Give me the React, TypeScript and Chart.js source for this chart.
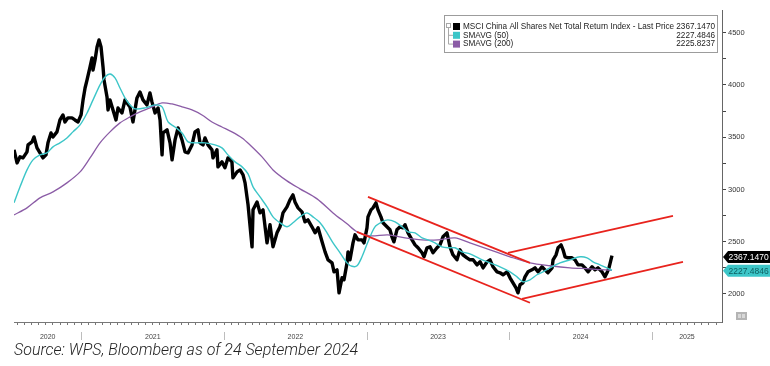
import React, { useEffect, useRef } from 'react';
import { Chart, registerables } from 'chart.js';

Chart.register(...registerables);

// ---------- DATA ----------
// x values are fractional years
const priceDates = [
  2020.527, 2020.548, 2020.569, 2020.590, 2020.618, 2020.625, 2020.653, 2020.667, 2020.688, 2020.709,
  2020.730, 2020.751, 2020.765, 2020.786, 2020.800, 2020.828, 2020.849, 2020.870, 2020.884, 2020.905,
  2020.933, 2020.954, 2020.976, 2020.997, 2021.011, 2021.025, 2021.039, 2021.060, 2021.074, 2021.081,
  2021.095, 2021.109, 2021.123, 2021.137, 2021.151, 2021.158, 2021.179, 2021.186, 2021.200, 2021.221,
  2021.242, 2021.256, 2021.284, 2021.305, 2021.340, 2021.361, 2021.389, 2021.410, 2021.431, 2021.459,
  2021.480, 2021.494, 2021.516, 2021.537, 2021.551, 2021.565, 2021.572, 2021.600, 2021.621, 2021.635,
  2021.656, 2021.677, 2021.705, 2021.726, 2021.747, 2021.775, 2021.796, 2021.817, 2021.831, 2021.852,
  2021.866, 2021.887, 2021.915, 2021.922, 2021.950, 2021.957, 2021.985, 2022.006, 2022.027, 2022.055,
  2022.062, 2022.091, 2022.112, 2022.133, 2022.147, 2022.168, 2022.196, 2022.203, 2022.231, 2022.252,
  2022.273, 2022.301, 2022.322, 2022.343, 2022.371, 2022.392, 2022.413, 2022.441, 2022.462, 2022.483,
  2022.497, 2022.518, 2022.546, 2022.567, 2022.588, 2022.616, 2022.638, 2022.659, 2022.687, 2022.708,
  2022.729, 2022.757, 2022.771, 2022.792, 2022.806, 2022.827, 2022.841, 2022.862, 2022.869, 2022.883,
  2022.904, 2022.918, 2022.939, 2022.967, 2022.981, 2023.002, 2023.009, 2023.030, 2023.044, 2023.065,
  2023.079, 2023.100, 2023.114, 2023.142, 2023.163, 2023.177, 2023.191, 2023.212, 2023.234, 2023.255,
  2023.269, 2023.290, 2023.318, 2023.339, 2023.360, 2023.388, 2023.402, 2023.423, 2023.444, 2023.465,
  2023.493, 2023.514, 2023.535, 2023.563, 2023.584, 2023.605, 2023.633, 2023.654, 2023.675, 2023.703,
  2023.724, 2023.746, 2023.774, 2023.795, 2023.816, 2023.844, 2023.865, 2023.886, 2023.914, 2023.935,
  2023.956, 2023.984, 2024.005, 2024.026, 2024.047, 2024.061, 2024.075, 2024.096, 2024.110, 2024.131,
  2024.159, 2024.180, 2024.201, 2024.229, 2024.250, 2024.271, 2024.300, 2024.307, 2024.328, 2024.342,
  2024.363, 2024.377, 2024.391, 2024.412, 2024.440, 2024.461, 2024.482, 2024.510, 2024.531, 2024.552,
  2024.580, 2024.601, 2024.622, 2024.650, 2024.671, 2024.685, 2024.699, 2024.720,
];
const priceValues = [
  3379, 3254, 3312, 3302, 3360, 3426, 3455, 3503, 3398, 3350,
  3302, 3331, 3446, 3541, 3503, 3551, 3665, 3713, 3646, 3685,
  3685, 3665, 3646, 3713, 3857, 3971, 4048, 4172, 4258, 4143,
  4239, 4363, 4430, 4363, 4172, 4048, 3885, 3761, 3857, 3761,
  3665, 3780, 3732, 3857, 3790, 3646, 3876, 3933, 3857, 3809,
  3924, 3838, 3732, 3780, 3665, 3331, 3541, 3570, 3446, 3283,
  3474, 3589, 3474, 3360, 3350, 3426, 3551, 3570, 3446, 3426,
  3493, 3426, 3379, 3302, 3379, 3216, 3264, 3207, 3302, 3264,
  3111, 3168, 3187, 3140, 3063, 2853, 2451, 2805, 2881, 2776,
  2805, 2489, 2662, 2451, 2585, 2643, 2776, 2834, 2901, 2948,
  2881, 2824, 2786, 2690, 2709, 2643, 2585, 2633, 2499, 2403,
  2327, 2298, 2212, 2231, 2011, 2155, 2136, 2298, 2403, 2327,
  2489, 2566, 2518, 2518, 2489, 2633, 2738, 2805, 2824, 2872,
  2805, 2738, 2681, 2643, 2614, 2547, 2499, 2614, 2643, 2633,
  2662, 2585, 2518, 2470, 2442, 2394, 2356, 2442, 2451, 2394,
  2442, 2470, 2547, 2585, 2451, 2375, 2327, 2423, 2375, 2346,
  2327, 2327, 2279, 2308, 2250, 2308, 2327, 2260, 2212, 2203,
  2184, 2212, 2155, 2107, 2059, 2011, 2088, 2107, 2164, 2212,
  2231, 2250, 2212, 2260, 2231, 2203, 2250, 2327, 2375, 2442,
  2470, 2423, 2356, 2346, 2346, 2327, 2279, 2279, 2250, 2212,
  2260, 2231, 2250, 2212, 2165, 2203, 2250, 2367,
];

const sma50Dates = [
  2020.527, 2020.569, 2020.618, 2020.660, 2020.709, 2020.758, 2020.800, 2020.849, 2020.898, 2020.940,
  2020.990, 2021.039, 2021.081, 2021.130, 2021.165, 2021.200, 2021.235, 2021.270, 2021.305, 2021.340,
  2021.375, 2021.445, 2021.516, 2021.565, 2021.607, 2021.656, 2021.705, 2021.747, 2021.796, 2021.866,
  2021.936, 2021.985, 2022.027, 2022.077, 2022.126, 2022.168, 2022.203, 2022.252, 2022.301, 2022.343,
  2022.392, 2022.441, 2022.483, 2022.532, 2022.581, 2022.623, 2022.673, 2022.722, 2022.764, 2022.813,
  2022.862, 2022.897, 2022.932, 2022.967, 2023.009, 2023.058, 2023.107, 2023.149, 2023.199, 2023.248,
  2023.290, 2023.339, 2023.388, 2023.430, 2023.479, 2023.528, 2023.570, 2023.619, 2023.668, 2023.724,
  2023.795, 2023.865, 2023.935, 2024.005, 2024.054, 2024.096, 2024.145, 2024.194, 2024.236, 2024.285,
  2024.356, 2024.426, 2024.496, 2024.545, 2024.587, 2024.636, 2024.685, 2024.720,
];
const sma50Values = [
  2872, 3025, 3187, 3283, 3331, 3350, 3407, 3446, 3493, 3551,
  3618, 3732, 3857, 4000, 4076, 4105, 4067, 3971, 3876, 3809,
  3771, 3780, 3809, 3790, 3646, 3598, 3541, 3455, 3446, 3446,
  3426, 3398, 3331, 3264, 3216, 3149, 3025, 2929, 2834, 2738,
  2681, 2643, 2681, 2738, 2776, 2738, 2681, 2585, 2489, 2394,
  2298, 2265, 2270, 2356, 2500, 2643, 2690, 2709, 2690, 2643,
  2595, 2585, 2537, 2518, 2489, 2451, 2442, 2442, 2403, 2384,
  2336, 2298, 2260, 2212, 2164, 2117, 2136, 2184, 2212, 2250,
  2298, 2327, 2356, 2346, 2308, 2279, 2250, 2227,
];

const sma200Dates = [
  2020.527, 2020.618, 2020.709, 2020.800, 2020.898, 2020.990, 2021.060, 2021.130, 2021.200, 2021.270,
  2021.340, 2021.410, 2021.480, 2021.565, 2021.635, 2021.705, 2021.775, 2021.845, 2021.915, 2021.985,
  2022.055, 2022.126, 2022.182, 2022.266, 2022.343, 2022.441, 2022.532, 2022.652, 2022.764, 2022.862,
  2022.932, 2023.023, 2023.149, 2023.269, 2023.388, 2023.500, 2023.619, 2023.724, 2023.865, 2024.005,
  2024.145, 2024.285, 2024.426, 2024.566, 2024.720,
];
const sma200Values = [
  2757, 2824, 2920, 2977, 3063, 3168, 3302, 3446, 3551, 3637,
  3694, 3742, 3780, 3828, 3818, 3790, 3761, 3713, 3646, 3598,
  3551, 3493, 3426, 3312, 3187, 3082, 3006, 2910, 2776, 2671,
  2595, 2556, 2566, 2537, 2518, 2518, 2537, 2489, 2423, 2356,
  2298, 2270, 2250, 2241, 2226,
];

// red channel lines: [start, end]
const trendX = [
  [2023.009, 2024.145],
  [2022.932, 2024.145],
  [2023.991, 2025.148],
  [2024.089, 2025.218],
];
const trendY = [
  [2929, 2298],
  [2595, 1916],
  [2394, 2748],
  [1954, 2308],
];

const seriesNames = [
  'MSCI China All Shares Net Total Return Index - Last Price',
  'SMAVG (50)',
  'SMAVG (200)',
];
const lastValueLabels = ['2367.1470', '2227.4846', '2225.8237'];
const lastValues = [2367.147, 2227.4846, 2225.8237];

const yearLabels = ['2020', '2021', '2022', '2023', '2024', '2025'];
const yearLabelPos = [2020.763, 2021.5, 2022.5, 2023.5, 2024.5, 2025.246];
const yearBoundaries = [2021, 2022, 2023, 2024, 2025];

const yTickValues = [2000, 2250, 2500, 2750, 3000, 3250, 3500, 3750, 4000, 4250, 4500];
const yMajorStep = 500;

// ---------- STYLE ----------
const BLACK = '#000000';
const CYAN = '#3cc6c8';
const PURPLE = '#8b5ca6';
const RED = '#e8231d';
const FONT = "'Liberation Sans', Arial, sans-serif";

const X_MIN = 2020.5267;
const X_MAX = 2025.4916;
const Y_MIN = 1732;
const Y_MAX = 4717;

const toPts = (xs: number[], ys: number[]) => xs.map((x, i) => ({ x, y: ys[i] }));

const decorPlugin = {
  id: 'decor',
  afterDraw(chart: any) {
    const { ctx, scales } = chart;
    const x = scales.x;
    const y = scales.y;
    ctx.save();

    // year separators below axis
    ctx.strokeStyle = '#bdbdbd';
    ctx.lineWidth = 1;
    yearBoundaries.forEach((b) => {
      const px = Math.round(x.getPixelForValue(b)) + 0.5;
      ctx.beginPath();
      ctx.moveTo(px, 332);
      ctx.lineTo(px, 340);
      ctx.stroke();
    });

    // last value tags
    const drawTag = (val: number, bg: string, fg: string, text: string, dy: number) => {
      const yc = y.getPixelForValue(val) + dy;
      const h = 12;
      ctx.fillStyle = bg;
      ctx.beginPath();
      ctx.moveTo(723, yc);
      ctx.lineTo(728, yc - h / 2);
      ctx.lineTo(770, yc - h / 2);
      ctx.lineTo(770, yc + h / 2);
      ctx.lineTo(728, yc + h / 2);
      ctx.closePath();
      ctx.fill();
      ctx.fillStyle = fg;
      ctx.font = `8.5px ${FONT}`;
      ctx.textAlign = 'left';
      ctx.textBaseline = 'middle';
      ctx.fillText(text, 728.5, yc + 0.5);
    };
    drawTag(lastValues[0], '#000000', '#ffffff', lastValueLabels[0], 1.5);
    drawTag(lastValues[1], CYAN, '#0d5e60', lastValueLabels[1], 0.5);

    // legend box
    const bx = 444.5, by = 15.5, bw = 273, bh = 37;
    ctx.fillStyle = '#ffffff';
    ctx.fillRect(bx, by, bw, bh);
    ctx.strokeStyle = '#9c9c9c';
    ctx.lineWidth = 1;
    ctx.strokeRect(bx, by, bw, bh);

    const rows = [26, 34.8, 43.6];
    const colors = [BLACK, CYAN, PURPLE];
    // tree lines
    ctx.strokeStyle = '#a8a8a8';
    ctx.strokeRect(446.5, 23.5, 4, 4);
    ctx.beginPath();
    ctx.moveTo(448.5, 27.5);
    ctx.lineTo(448.5, rows[2] + 0.5);
    ctx.moveTo(448.5, rows[1] + 0.5);
    ctx.lineTo(453, rows[1] + 0.5);
    ctx.moveTo(448.5, rows[2] + 0.5);
    ctx.lineTo(453, rows[2] + 0.5);
    ctx.stroke();

    ctx.font = `8.2px ${FONT}`;
    ctx.textBaseline = 'middle';
    rows.forEach((ry, i) => {
      ctx.fillStyle = colors[i];
      ctx.fillRect(453, ry - 3, 7, 7);
      ctx.fillStyle = '#222222';
      ctx.textAlign = 'left';
      ctx.fillText(seriesNames[i], 463, ry + 0.5);
      ctx.textAlign = 'right';
      ctx.fillText(lastValueLabels[i], 715, ry + 0.5);
    });

    // small gray icon bottom right
    ctx.fillStyle = '#b4b4b4';
    ctx.fillRect(736, 312, 11, 8);
    ctx.fillStyle = '#d8d8d8';
    ctx.fillRect(738, 314, 3, 4);
    ctx.fillRect(742, 314, 3, 4);

    ctx.restore();
  },
};

export default function App() {
  const canvasRef = useRef<HTMLCanvasElement | null>(null);

  useEffect(() => {
    document.body.style.margin = '0';
    const canvas = canvasRef.current;
    if (!canvas) return;

    const trendSets = trendX.map((xs, i) => ({
      label: `trend${i}`,
      data: toPts(xs, trendY[i]),
      borderColor: RED,
      borderWidth: 1.8,
      pointRadius: 0,
      tension: 0,
      order: 0,
    }));

    const chart = new Chart(canvas, {
      type: 'line',
      data: {
        datasets: [
          ...trendSets,
          {
            label: seriesNames[1],
            data: toPts(sma50Dates, sma50Values),
            borderColor: CYAN,
            borderWidth: 1.4,
            pointRadius: 0,
            tension: 0.3,
            order: 1,
          },
          {
            label: seriesNames[2],
            data: toPts(sma200Dates, sma200Values),
            borderColor: PURPLE,
            borderWidth: 1.3,
            pointRadius: 0,
            tension: 0.3,
            order: 2,
          },
          {
            label: seriesNames[0],
            data: toPts(priceDates, priceValues),
            borderColor: BLACK,
            borderWidth: 3.4,
            pointRadius: 0,
            tension: 0,
            borderJoinStyle: 'round',
            order: 3,
          },
        ],
      },
      options: {
        responsive: false,
        animation: false,
        events: [],
        layout: { padding: { left: 14, top: 10, right: 0, bottom: 0 } },
        plugins: {
          legend: { display: false },
          tooltip: { enabled: false },
        },
        scales: {
          x: {
            type: 'linear',
            min: X_MIN,
            max: X_MAX,
            afterBuildTicks: (scale: any) => {
              const ticks: { value: number }[] = [];
              for (let k = Math.ceil(X_MIN * 20); k <= Math.floor(X_MAX * 20); k++) {
                const v = k / 20;
                if (!yearLabelPos.some((p) => Math.abs(p - v) < 1e-6)) ticks.push({ value: v });
              }
              yearLabelPos.forEach((p) => ticks.push({ value: p }));
              ticks.sort((a, b) => a.value - b.value);
              scale.ticks = ticks;
            },
            afterFit: (scale: any) => {
              scale.height = 44;
            },
            ticks: {
              autoSkip: false,
              maxRotation: 0,
              minRotation: 0,
              padding: 8,
              color: '#444444',
              font: { size: 7, family: FONT },
              callback: (value: any) => {
                const idx = yearLabelPos.findIndex((p) => Math.abs(p - Number(value)) < 1e-6);
                return idx >= 0 ? yearLabels[idx] : '';
              },
            },
            grid: {
              drawOnChartArea: false,
              drawTicks: true,
              tickLength: 3,
              color: (ctx: any) => {
                const v = ctx.tick ? ctx.tick.value : 0;
                const onMinor = Math.abs(v * 20 - Math.round(v * 20)) < 1e-6;
                return onMinor ? '#777777' : 'rgba(0,0,0,0)';
              },
            },
            border: { display: true, color: '#777777', width: 1 },
          },
          y: {
            type: 'linear',
            position: 'right',
            min: Y_MIN,
            max: Y_MAX,
            afterBuildTicks: (scale: any) => {
              scale.ticks = yTickValues.map((v) => ({ value: v }));
            },
            afterFit: (scale: any) => {
              scale.width = 48;
            },
            ticks: {
              autoSkip: false,
              padding: 2,
              color: '#333333',
              font: { size: 7.5, family: FONT },
              callback: (value: any) => (Number(value) % yMajorStep === 0 ? String(value) : ''),
            },
            grid: {
              drawOnChartArea: false,
              drawTicks: true,
              tickLength: 4,
              color: '#444444',
            },
            border: { display: true, color: '#666666', width: 1 },
          },
        },
      },
      plugins: [decorPlugin],
    } as any);

    return () => chart.destroy();
  }, []);

  return (
    <div style={{ position: 'relative', width: 770, height: 366, background: '#ffffff' }}>
      <canvas ref={canvasRef} width={770} height={366} style={{ display: 'block' }} />
      <div
        style={{
          position: 'absolute',
          left: 14,
          top: 342,
          fontFamily: "Roboto, 'Liberation Sans', sans-serif",
          fontStyle: 'italic',
          fontWeight: 300,
          fontSize: 16,
          lineHeight: '16px',
          color: '#222222',
          whiteSpace: 'nowrap',
        }}
      >
        Source: WPS, Bloomberg as of 24 September 2024
      </div>
    </div>
  );
}
